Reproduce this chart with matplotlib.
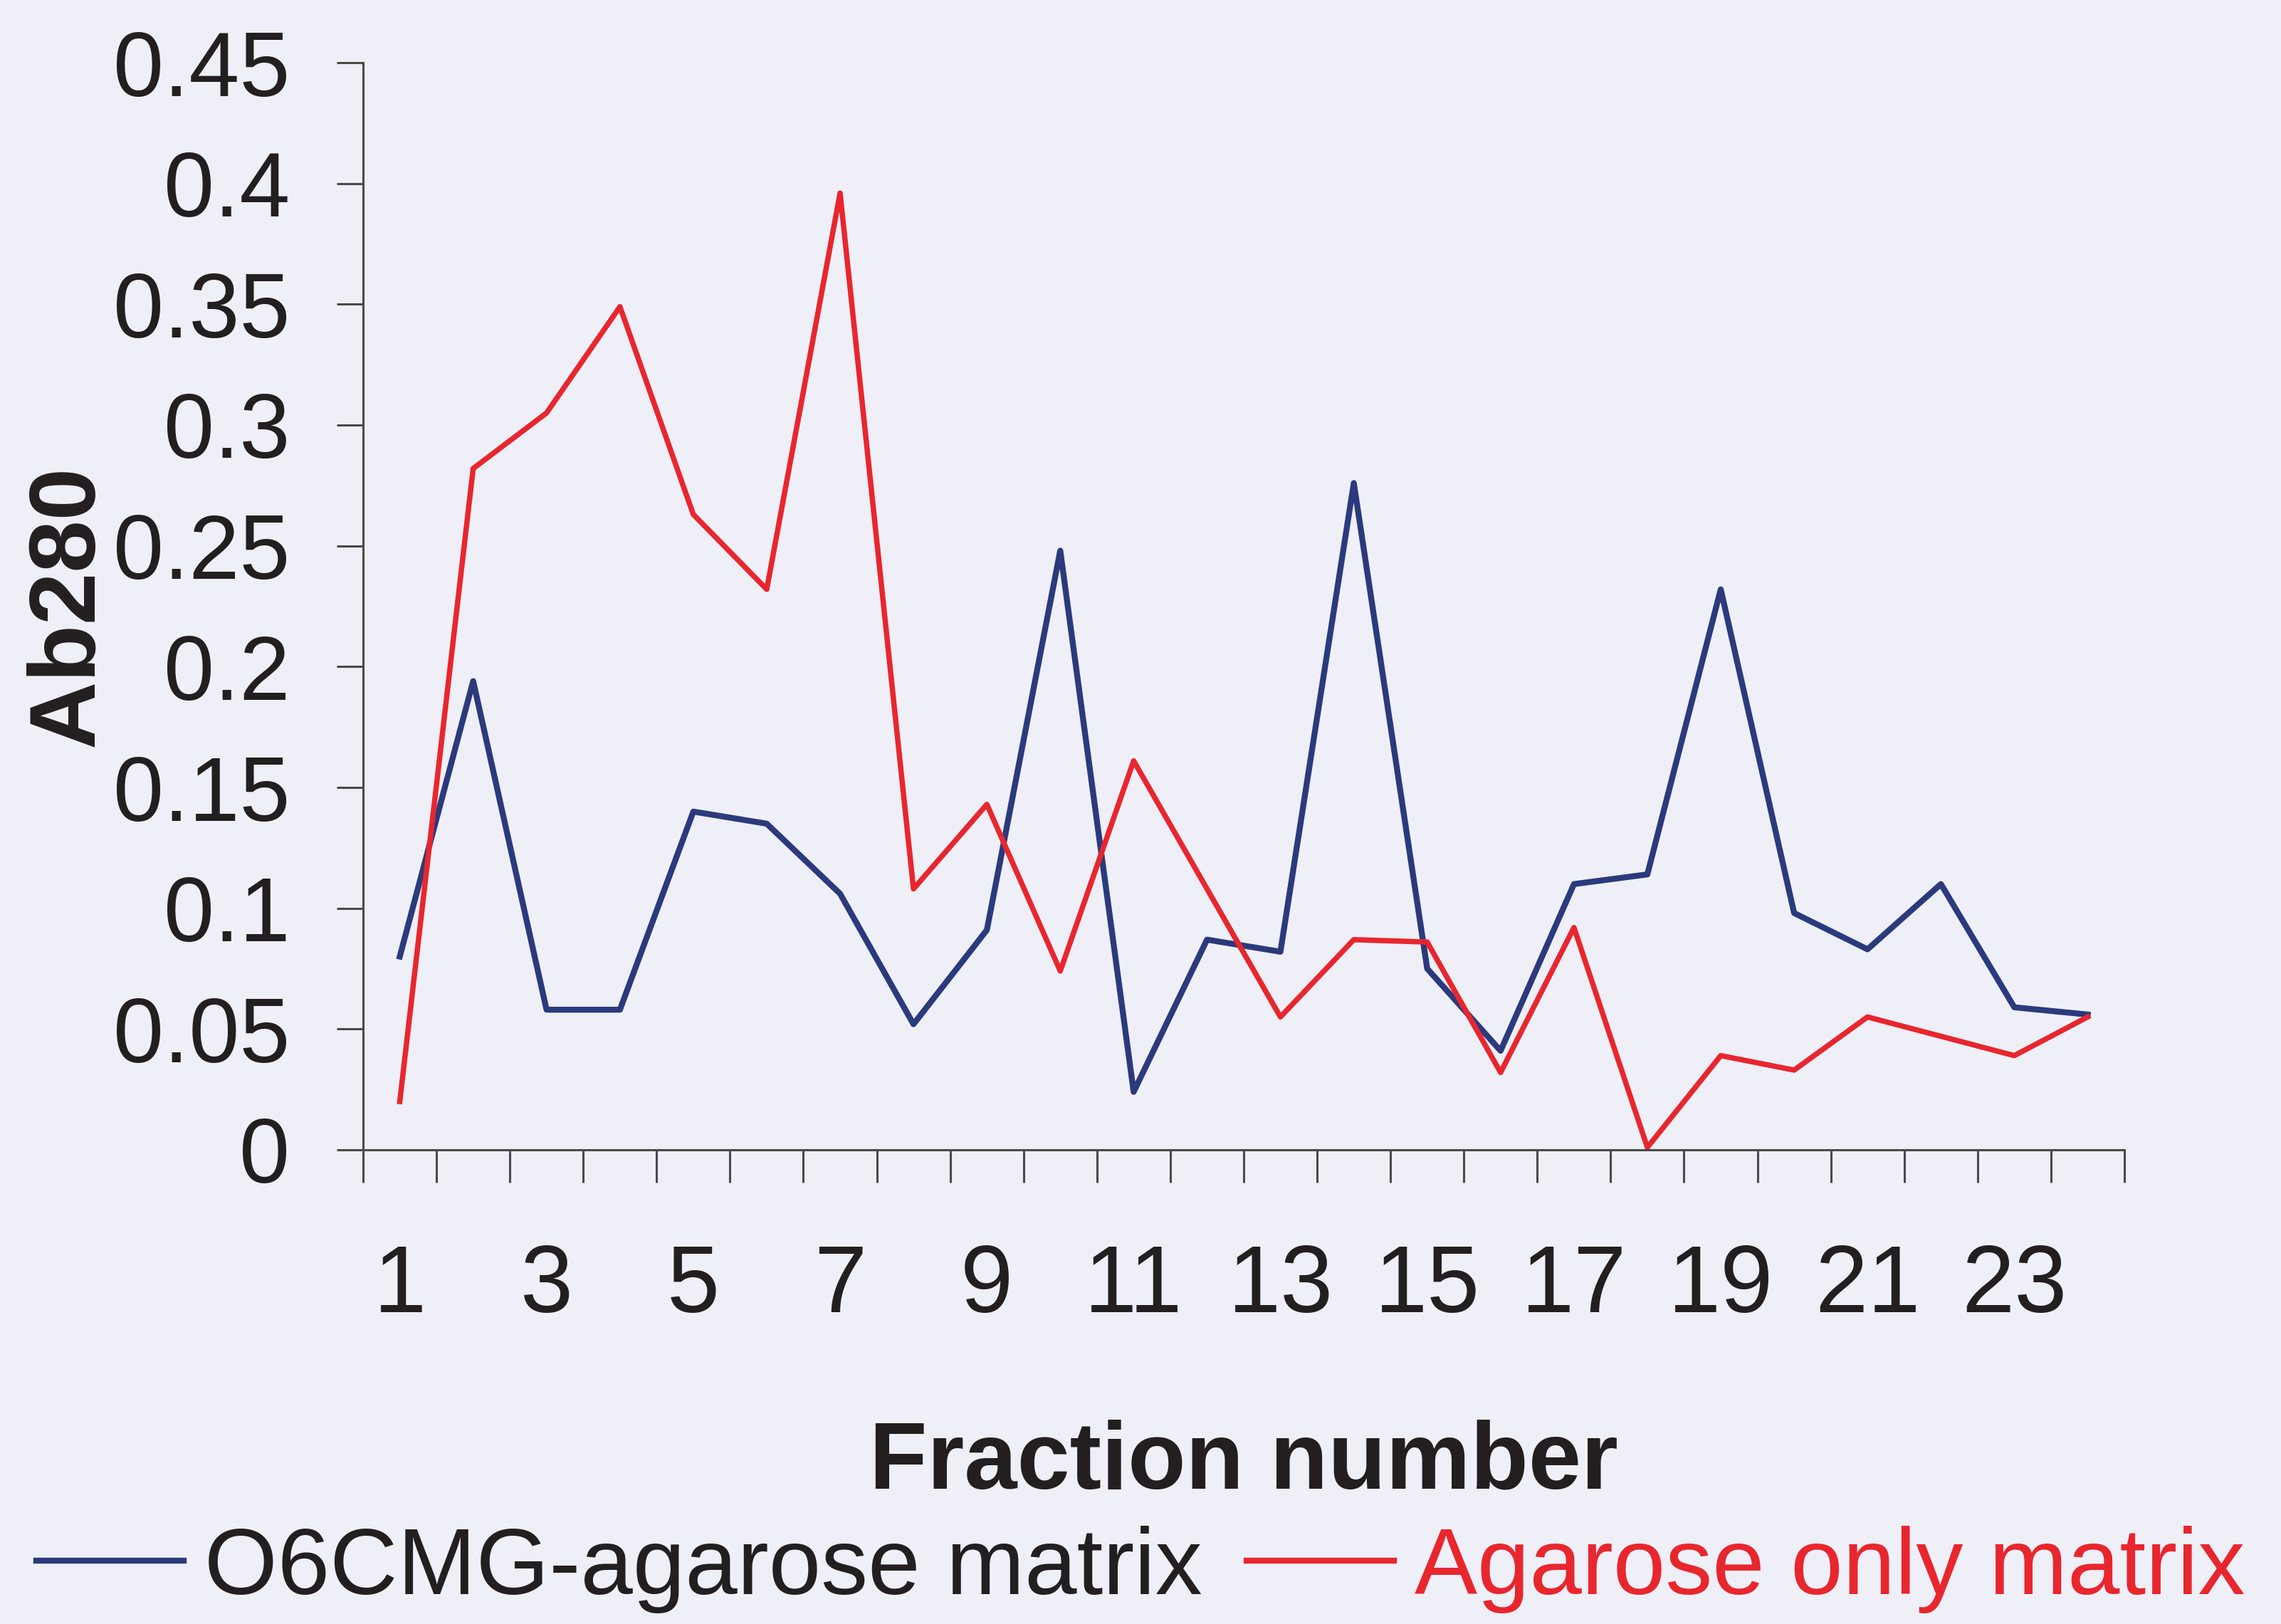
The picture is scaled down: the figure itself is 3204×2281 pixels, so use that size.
import matplotlib
matplotlib.use("Agg")
import matplotlib.pyplot as plt
from matplotlib.ticker import FixedLocator

fractions = list(range(1, 25))
o6cmg = [0.080, 0.194, 0.058, 0.058, 0.140, 0.135, 0.106, 0.052, 0.091, 0.248,
         0.024, 0.087, 0.082, 0.276, 0.075, 0.041, 0.110, 0.114, 0.232, 0.098,
         0.083, 0.110, 0.059, 0.056]
agarose = [0.020, 0.282, 0.305, 0.349, 0.263, 0.232, 0.396, 0.108, 0.143, 0.074,
           0.161, 0.108, 0.055, 0.087, 0.086, 0.032, 0.092, 0.001, 0.039, 0.033,
           0.055, 0.047, 0.039, 0.055]
series_names = ["O6CMG-agarose matrix", "Agarose only matrix"]
xtick_values = [1, 3, 5, 7, 9, 11, 13, 15, 17, 19, 21, 23]
ytick_values = [0, 0.05, 0.1, 0.15, 0.2, 0.25, 0.3, 0.35, 0.4, 0.45]
ytick_labels = ["0", "0.05", "0.1", "0.15", "0.2", "0.25", "0.3", "0.35", "0.4", "0.45"]

BG = "#EFEFF8"
TXT = "#231F20"
BLUE = "#2B3A7C"
RED = "#E8262E"
AX = "#4A4A4A"

plt.rcParams['font.family'] = ['Liberation Sans', 'DejaVu Sans']

W, H = 3205, 2281
fig = plt.figure(figsize=(W / 100, H / 100), dpi=100, facecolor=BG)
ax = fig.add_axes([510 / W, 1 - 1615 / H, (2984 - 510) / W, (1615 - 88) / H])
ax.set_facecolor(BG)

l1, = ax.plot(fractions, o6cmg, color=BLUE, lw=6.0, solid_joinstyle='round', label=series_names[0])
l2, = ax.plot(fractions, agarose, color=RED, lw=5.4, solid_joinstyle='round', label=series_names[1])

ax.set_xlim(0.5, 24.5)
ax.set_ylim(0, 0.45)
for s in ['top', 'right']:
    ax.spines[s].set_visible(False)
for s in ['left', 'bottom']:
    ax.spines[s].set_color(AX)
    ax.spines[s].set_linewidth(2.2)

ax.set_yticks(ytick_values)
ax.set_yticklabels(ytick_labels)
ax.tick_params(axis='y', which='major', length=27, width=2.2, color=AX, pad=47,
               labelsize=92, labelcolor=TXT)

ax.set_xticks(xtick_values)
ax.set_xticklabels([str(v) for v in xtick_values])
ax.xaxis.set_minor_locator(FixedLocator([i + 0.5 for i in range(0, 25)]))
ax.tick_params(axis='x', which='major', length=0, pad=94, labelsize=96, labelcolor=TXT)
ax.tick_params(axis='x', which='minor', length=33, width=2.2, color=AX, direction='out')

for sp in ax.spines.values():
    sp.set_clip_on(False)

fig.text(96 / W, 1 - 851 / H, "Ab280", rotation=90, ha='center', va='center',
         fontsize=95, fontweight='bold', color=TXT)
ax.set_xlabel("Fraction number", fontsize=96, fontweight='bold', color=TXT)
ax.xaxis.set_label_coords(0.5, -(2090 - 1615) / (1615 - 88))
ax.xaxis.label.set_va('baseline')

leg = ax.legend(handles=[l1, l2], loc='center left',
                bbox_to_anchor=(51 / W, 1 - 2204 / H), bbox_transform=fig.transFigure,
                ncol=2, frameon=False, fontsize=95, handlelength=1.57,
                handletextpad=0.22, columnspacing=0.47, borderpad=0, borderaxespad=0)
texts = leg.get_texts()
texts[0].set_color(TXT)
texts[1].set_color(RED)
for h in leg.get_lines():
    h.set_linewidth(6.0)

fig.savefig("out.png", dpi=100, facecolor=BG)
